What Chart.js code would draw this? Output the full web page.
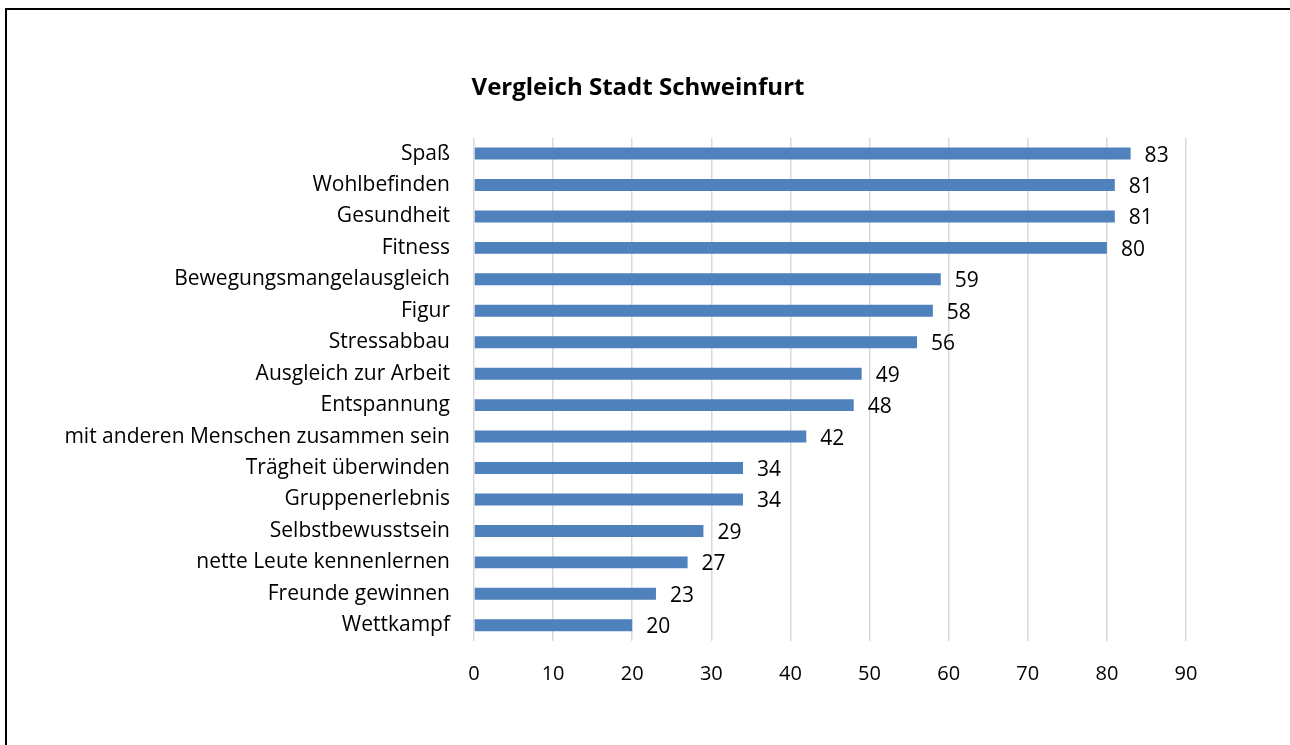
<!DOCTYPE html>
<html>
<head>
<meta charset="utf-8">
<script src="https://cdn.jsdelivr.net/npm/chart.js@4.4.1/dist/chart.umd.min.js"></script>
<style>
  body { margin: 0; background: #fff; overflow: hidden; }
  #frame { position: absolute; left: 5px; top: 8px; width: 1400px; height: 900px; border: 2px solid #000; }
  #wrap { position: absolute; left: 0; top: 0; width: 1290px; height: 745px; }
</style>
</head>
<body>
<div id="frame"></div>
<div id="wrap"><canvas id="chart"></canvas></div>
<script>
var kategorien = ["Spaß", "Wohlbefinden", "Gesundheit", "Fitness", "Bewegungsmangelausgleich", "Figur",
  "Stressabbau", "Ausgleich zur Arbeit", "Entspannung", "mit anderen Menschen zusammen sein",
  "Trägheit überwinden", "Gruppenerlebnis", "Selbstbewusstsein", "nette Leute kennenlernen",
  "Freunde gewinnen", "Wettkampf"];
var werte = [83, 81, 81, 80, 59, 58, 56, 49, 48, 42, 34, 34, 29, 27, 23, 20];
var achseMax = 90;
var achseSchritt = 10;

var schrift = "'Open Sans', sans-serif";

// Werte rechts neben die Balken schreiben
var wertBeschriftung = {
  id: 'wertBeschriftung',
  afterLayout: function (chart) {
    // lange Kategorienamen nicht am linken Achsenrand abschneiden
    chart.scales.y.left = 0;
  },
  afterDatasetsDraw: function (chart) {
    var ctx = chart.ctx;
    var meta = chart.getDatasetMeta(0);
    ctx.save();
    ctx.font = '21px ' + schrift;
    ctx.fillStyle = '#000';
    ctx.textAlign = 'left';
    ctx.textBaseline = 'middle';
    meta.data.forEach(function (bar, i) {
      ctx.fillText(werte[i], bar.x + 14, bar.y + 2);
    });
    ctx.restore();
  }
};

new Chart(document.getElementById("chart"), {
  type: 'bar',
  data: {
    labels: kategorien,
    datasets: [{
      data: werte,
      backgroundColor: "#4F81BD",
      barPercentage: 0.38,
      categoryPercentage: 1
    }]
  },
  plugins: [wertBeschriftung],
  options: {
    indexAxis: 'y',
    responsive: true,
    maintainAspectRatio: false,
    animation: false,
    layout: { padding: { left: 90, right: 104, top: 0, bottom: 0 } },
    plugins: {
      legend: { display: false },
      tooltip: { enabled: false },
      title: {
        display: true,
        text: 'Vergleich Stadt Schweinfurt',
        color: '#000',
        font: { family: schrift, size: 24, weight: 'bold', lineHeight: 1.2 },
        padding: { top: 74, bottom: 35 }
      }
    },
    scales: {
      x: {
        min: 0,
        max: achseMax,
        ticks: { stepSize: achseSchritt, color: '#000', font: { family: schrift, size: 20 }, padding: 21 },
        grid: { color: '#d9d9d9', lineWidth: 1.5, drawTicks: false },
        border: { display: false },
        afterFit: function (scale) { scale.height = 104; }
      },
      y: {
        ticks: { color: '#000', font: { family: schrift, size: 21 }, padding: 24, autoSkip: false },
        grid: { display: false, drawTicks: false },
        border: { display: false },
        afterFit: function (scale) { scale.width = 384; }
      }
    }
  }
});
</script>
</body>
</html>
